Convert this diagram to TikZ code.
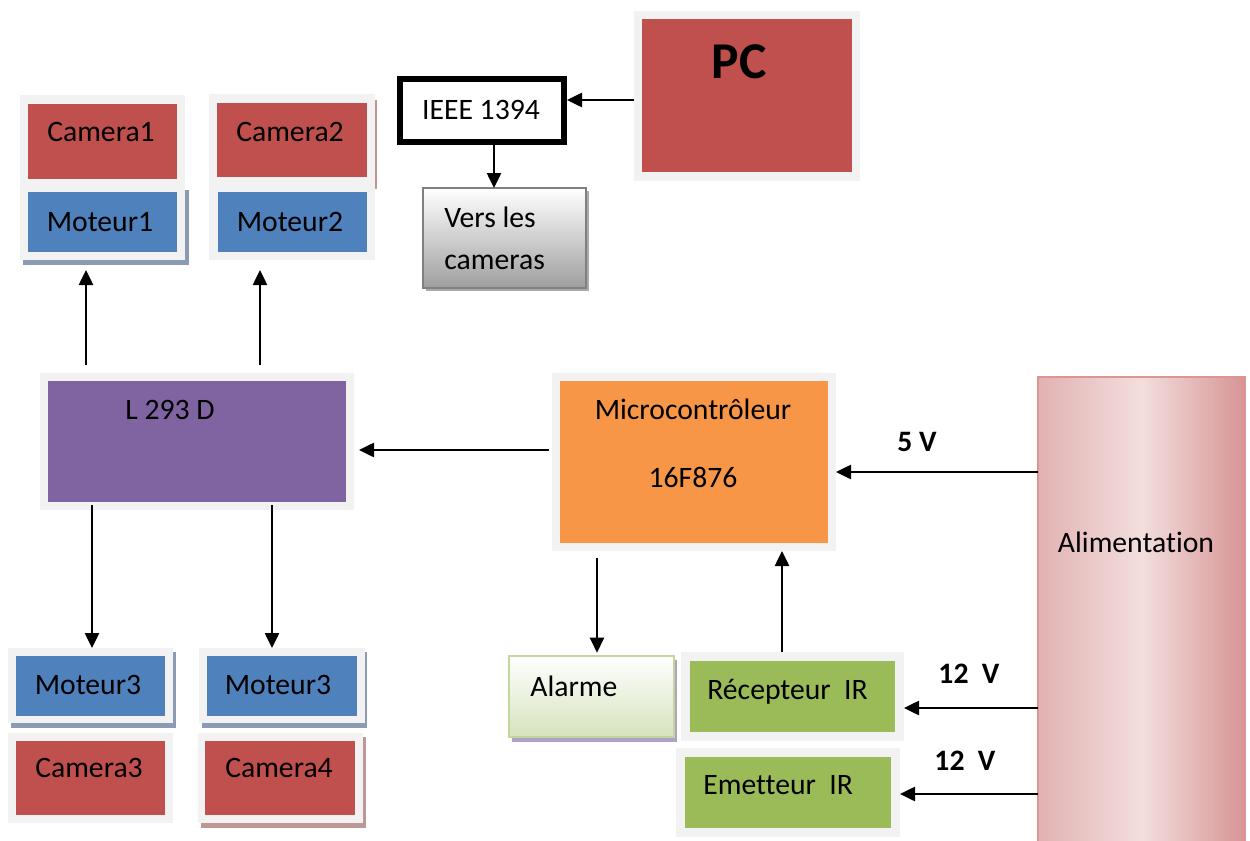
\documentclass[tikz,border=0pt]{standalone}
\usepackage{fontspec}
\setmainfont{Carlito}[Ligatures={NoCommon}]
\usetikzlibrary{arrows.meta,fit}
\definecolor{cred}{RGB}{192,80,77}
\definecolor{cblue}{RGB}{79,129,189}
\definecolor{cpurple}{RGB}{128,100,162}
\definecolor{corange}{RGB}{247,150,70}
\definecolor{cgreen}{RGB}{155,187,89}
\definecolor{framegray}{RGB}{242,242,242}
\definecolor{shblue}{RGB}{140,155,180}
\definecolor{shred}{RGB}{190,150,150}
\definecolor{shgray}{RGB}{170,170,170}
\definecolor{shpurple}{RGB}{178,161,199}
\definecolor{alimborder}{RGB}{217,150,148}
\definecolor{alimlight}{RGB}{243,222,222}
\definecolor{alimdark}{RGB}{215,148,148}
\definecolor{alarmborder}{RGB}{195,214,155}
\definecolor{alarmfill}{RGB}{213,227,188}
\begin{document}
\begin{tikzpicture}[x=0.6pt,y=-0.6pt,
  font=\fontsize{17.8}{21}\selectfont,
  rect/.style={inner sep=0pt, outer sep=0pt},
  frame/.style={rect, fill=framegray},
  lbl/.style={inner sep=0pt, text height=11.5pt, text depth=0pt},
  vlbl/.style={lbl, font=\fontsize{17.8}{21}\selectfont\bfseries},
  arr/.style={-{Triangle[length=9pt,width=8.5pt]}, line width=1.2pt}]
\useasboundingbox[fill=white] (0,0) rectangle (1250,841);

% ---------- top-left cameras / motors ----------
\node[rect, fill=shblue, fit={(23,190)(189,265)}] (mot1sh) {};
\node[frame, fit={(20,95)(185,186)}] (cam1f) {};
\node[frame, fit={(20,186)(185,260)}] (mot1f) {};
\node[rect, fill=cred, fit={(28,104)(177,179)}] (cam1) {};
\node[rect, fill=cblue, fit={(28,192)(177,252)}] (mot1) {};
\node[lbl] (cam1t) at (101,132) {Camera1};
\node[lbl] (mot1t) at (100,222) {Moteur1};

\node[rect, fill=shred, fit={(212,100)(377,189)}] (cam2sh) {};
\node[frame, fit={(209,94)(375,186)}] (cam2f) {};
\node[frame, fit={(209,186)(375,260)}] (mot2f) {};
\node[rect, fill=cred, fit={(217,103)(367,177)}] (cam2) {};
\node[rect, fill=cblue, fit={(218,192)(367,252)}] (mot2) {};
\node[lbl] (cam2t) at (290,132) {Camera2};
\node[lbl] (mot2t) at (290,222) {Moteur2};

% ---------- IEEE / PC ----------
\node[rect, fill=shgray, fit={(426,191)(589,291)}] (versh) {};
\node[rect, draw=gray, line width=1.2pt, top color=white, bottom color=black!38, fit={(423,188)(586,288)}] (vers) {};
\node[lbl, anchor=west] (vers1) at (444,218) {Vers les};
\node[lbl, anchor=west] (vers2) at (444,260) {cameras};

\node[draw=black, line width=3.6pt, fill=white, inner sep=0pt, fit={(400,79)(564,142)}] (ieee) {};
\node[lbl] (ieeet) at (481,110) {IEEE 1394};

\node[frame, fit={(634,11)(860,181)}] (pcf) {};
\node[rect, fill=cred, fit={(642,19)(852,172)}] (pc) {};
\node[lbl, font=\fontsize{31}{36}\selectfont\bfseries, text height=20pt] (pct) at (739,62) {PC};

% ---------- L293D ----------
\node[frame, fit={(40,373)(354,510)}] (l293f) {};
\node[rect, fill=cpurple, fit={(48,381)(346,502)}] (l293) {};
\node[lbl] (l293t) at (170,410) {L 293 D};

% ---------- bottom-left motors / cameras ----------
\node[rect, fill=shblue, fit={(11,652)(176,728)}] (mot3sh) {};
\node[frame, fit={(8,648)(173,723)}] (mot3f) {};
\node[rect, fill=cblue, fit={(16,656)(165,716)}] (mot3) {};
\node[lbl] (mot3t) at (88,685) {Moteur3};
\node[frame, fit={(8,733)(173,823)}] (cam3f) {};
\node[rect, fill=cred, fit={(16,741)(165,815)}] (cam3) {};
\node[lbl] (cam3t) at (89,768) {Camera3};

\node[rect, fill=shblue, fit={(202,652)(367,728)}] (mot4sh) {};
\node[frame, fit={(199,648)(365,723)}] (mot4f) {};
\node[rect, fill=cblue, fit={(207,656)(357,716)}] (mot4) {};
\node[lbl] (mot4t) at (278,685) {Moteur3};
\node[rect, fill=shred, fit={(201,737)(366,828)}] (cam4sh) {};
\node[frame, fit={(198,733)(363,823)}] (cam4f) {};
\node[rect, fill=cred, fit={(205,741)(355,815)}] (cam4) {};
\node[lbl] (cam4t) at (279,768) {Camera4};

% ---------- microcontroller ----------
\node[frame, fit={(552,373)(836,551)}] (mcf) {};
\node[rect, fill=corange, fit={(560,381)(828,543)}] (mc) {};
\node[lbl] (mct1) at (693,410) {Microcontrôleur};
\node[lbl] (mct2) at (693,478) {16F876};

% ---------- Alarme ----------
\node[rect, fill=shpurple, fit={(512,660)(677,742)}] (alsh) {};
\node[rect, draw=alarmborder, line width=1.5pt, top color=white, bottom color=alarmfill, fit={(509,656)(674,737)}] (alarme) {};
\node[lbl, anchor=west] (alarmet) at (530,687) {Alarme};

% ---------- IR ----------
\node[frame, fit={(681,652)(904,741)}] (recf) {};
\node[rect, fill=cgreen, fit={(690,661)(895,732)}] (rec) {};
\node[lbl, anchor=west] (rect) at (707,690) {Récepteur\ \ IR};

\node[frame, fit={(676,748)(900,837)}] (emf) {};
\node[rect, fill=cgreen, fit={(685,757)(891,828)}] (em) {};
\node[lbl, anchor=west] (emt) at (703,785) {Emetteur\ \ IR};

% ---------- Alimentation ----------
\node[rect, draw=alimborder, line width=1.2pt, left color=alimdark!60!alimlight, right color=alimdark, middle color=alimlight, fit={(1038,377)(1245,845)}] (alim) {};
\node[lbl] (alimt) at (1136,543) {Alimentation};

% ---------- voltage labels ----------
\node[vlbl] (v5) at (917,442) {5 V};
\node[vlbl] (v12a) at (969,674) {12\ \ V};
\node[vlbl] (v12b) at (965,761) {12\ \ V};

% ---------- connectors ----------
\draw[arr] (pcf.west |- 0,100) -- (ieee.east |- 0,100);
\draw[arr] (ieee.south -| 494,0) -- (vers.north -| 494,0);
\draw[arr, shorten <=5pt, shorten >=6pt] (l293f.north -| 86,0) -- (mot1f.south -| 86,0);
\draw[arr, shorten <=5pt, shorten >=6pt] (l293f.north -| 260,0) -- (mot2f.south -| 260,0);
\draw[arr, shorten <=2pt, shorten >=3pt] (mcf.west |- 0,450) -- (l293f.east |- 0,450);
\draw[arr, shorten <=-3pt] (l293f.south -| 92,0) -- (mot3f.north -| 92,0);
\draw[arr, shorten <=-3pt] (l293f.south -| 272,0) -- (mot4f.north -| 272,0);
\draw[arr] (alim.west |- 0,472) -- (mcf.east |- 0,472);
\draw[arr, shorten <=4pt, shorten >=2pt] (mcf.south -| 597,0) -- (alarme.north -| 597,0);
\draw[arr] (recf.north -| 782,0) -- (mcf.south -| 782,0);
\draw[arr] (alim.west |- 0,708) -- (recf.east |- 0,708);
\draw[arr] (alim.west |- 0,794) -- (emf.east |- 0,794);
\end{tikzpicture}
\end{document}
